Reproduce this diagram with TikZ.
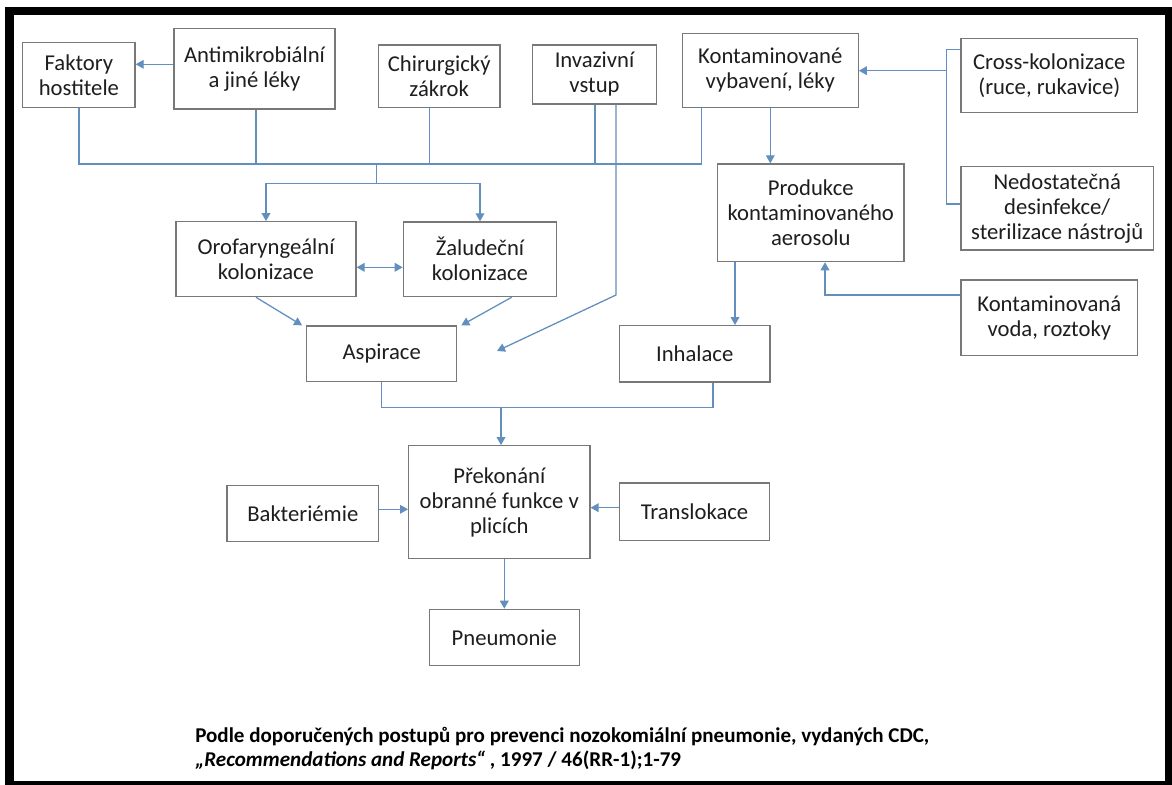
\documentclass[tikz,border=0pt]{standalone}
\usepackage{fontspec}
\setmainfont{Carlito}
\usetikzlibrary{arrows.meta,calc}
\definecolor{boxgray}{RGB}{120,120,120}
\definecolor{lnblue}{RGB}{98,143,190}
\definecolor{txt}{RGB}{30,30,30}
\begin{document}
\begin{tikzpicture}[x=0.75pt,y=-0.75pt,
  box/.style={draw=boxgray,line width=0.9pt,fill=white,align=center,text=txt,inner sep=0pt,font=\fontsize{17pt}{18.75pt}\selectfont},
  sz/.style 2 args={minimum width=#1*0.75pt,minimum height=#2*0.75pt},
  ln/.style={draw=lnblue,line width=0.95pt},
  arr/.style={ln,-{Triangle[length=6pt,width=6.5pt]}},
  darr/.style={ln,{Triangle[length=6pt,width=6.5pt]}-{Triangle[length=6pt,width=6.5pt]}},
  foot/.style={anchor=base west,inner sep=0pt,text=black,font=\fontsize{15.8pt}{18pt}\selectfont\bfseries}]
\useasboundingbox (0,0) rectangle (1172,785);
\fill[white] (0,0) rectangle (1172,785);
\fill[black] (5,7) rectangle (1172,785);
\fill[white] (14,15) rectangle (1165,781);

% boxes
\node[box,sz={112.3}{65.4}] (fak) at (78.9,75) {Faktory\\hostitele};
\node[box,sz={161}{80.7}] (anti) at (254.5,68.7) {Antimikrobiální\\a jiné léky};
\node[box,sz={121.7}{62.3}] (chir) at (439.2,76.2) {Chirurgický\\zákrok};
\node[box,sz={124.4}{59}] (inv) at (594.5,74.5) {Invazivní\\vstup};
\node[box,sz={176}{74}] (kont) at (770.3,70.3) {Kontaminované\\vybavení, léky};
\node[box,sz={176.7}{74}] (cross) at (1049.3,75.3) {Cross-kolonizace\\(ruce, rukavice)};
\node[box,sz={192.3}{83.3}] (nedo) at (1057.2,208.3) {Nedostatečná\\desinfekce/\\sterilizace nástrojů};
\node[box,sz={186.3}{97.7}] (prod) at (810.8,212.8) {Produkce\\kontaminovaného\\aerosolu};
\node[box,sz={180}{75}] (oro) at (266,259.2) {Orofaryngeální\\kolonizace};
\node[box,sz={153.4}{74.7}] (zal) at (480,259.3) {Žaludeční\\kolonizace};
\node[box,sz={150}{55.7}] (asp) at (381.7,353.8) {Aspirace};
\node[box,sz={150.7}{56.3}] (inh) at (694.7,353.8) {Inhalace};
\node[box,sz={176.7}{75.7}] (voda) at (1049.3,317.8) {Kontaminovaná\\voda, roztoky};
\node[box,sz={181.3}{112.6}] (prek) at (499.3,502) {Překonání\\obranné funkce v\\plicích};
\node[box,sz={151.7}{56}] (bak) at (302.8,513.7) {Bakteriémie};
\node[box,sz={150.5}{57.7}] (trans) at (694.5,511.8) {Translokace};
\node[box,sz={150}{56.4}] (pneu) at (504.3,637.5) {Pneumonie};

% connectors
\draw[arr] (anti.west |- 0,64.3) -- (fak.east |- 0,64.3);
\coordinate (J1) at (376.7,164);
\coordinate (J2) at (376.7,183.3);
\draw[ln] (fak.south) |- (J1);
\draw[ln] (J1) -| (kont.south -| 701.7,0);
\draw[ln] (anti.south -| 256,0) -- (256,0 |- J1);
\draw[ln] (chir.south -| 429.3,0) -- (429.3,0 |- J1);
\draw[ln] (inv.south -| 595,0) -- (595,0 |- J1);
\draw[ln] (J1) -- (J2);
\draw[arr] (J2) -| (oro.north);
\draw[arr] (J2) -| (zal.north);
\coordinate (invend) at (497,351);
\draw[arr] (inv.south -| 616,0) -- (616,295) -- (invend);
\draw[arr] (kont.south) -- (kont.south |- prod.north);
\coordinate (cb) at (946.7,70.7);
\draw[ln] (cross.west |- 0,49.3) -| (cb) |- (nedo.west |- 0,204);
\draw[arr] (cb) -- (kont.east |- cb);
\draw[arr] (prod.south -| 735,0) -- (inh.north -| 735,0);
\draw[arr] (voda.west |- 0,295) -| (prod.south -| 825,0);
\draw[darr] (oro.east |- 0,267.3) -- (zal.west |- 0,267.3);
\draw[arr] (oro.south -| 256,0) -- ($(asp.north west)+(-4,0)$);
\draw[arr] (zal.south -| 511.7,0) -- ($(asp.north east)+(4,0)$);
\coordinate (J3) at (501,407.5);
\draw[ln] (asp.south) |- (J3);
\draw[ln] (inh.south -| 713,0) |- (J3);
\draw[arr] (J3) -- (J3 |- prek.north);
\draw[arr] (bak.east |- 0,509.3) -- (prek.west |- 0,509.3);
\draw[arr] (trans.west |- 0,507.7) -- (prek.east |- 0,507.7);
\draw[arr] (prek.south -| pneu.north) -- (pneu.north);

% footer
\node[foot] (f1) at (195,742) {Podle doporučených postupů pro prevenci nozokomiální pneumonie, vydaných CDC,};
\node[foot] (f2) at (195,766) {\textit{„Recommendations and Reports“} , 1997 / 46(RR-1);1-79};
\end{tikzpicture}
\end{document}
